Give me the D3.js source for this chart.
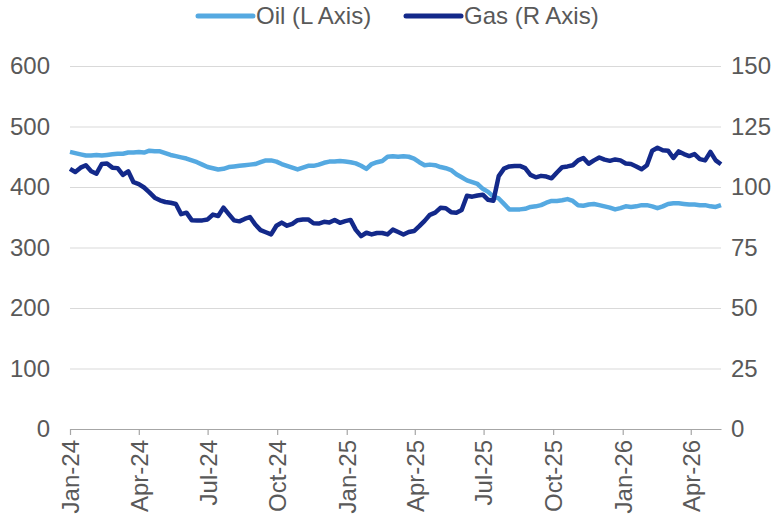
<!DOCTYPE html>
<html>
<head>
<meta charset="utf-8">
<script src="https://cdn.jsdelivr.net/npm/d3@7"></script>
<style>
  body { margin: 0; background: #fff; }
  svg { display: block; font-family: "Liberation Sans", Arial, sans-serif; }
</style>
</head>
<body>
<svg id="chart" width="784" height="518"></svg>
<script>
// weekly observations, first week starting 1 Jan 2024
const startDate = new Date(2024, 0, 1);

const oilValues = [
  458, 456, 454, 452, 452, 453, 452, 453, 454, 455, 455, 457, 457, 458, 457, 460,
  459, 459, 456, 453, 451, 449, 447, 444, 441, 437, 433, 431, 429, 430, 433, 434,
  435, 436, 437, 438, 441, 444, 444, 442, 438, 435, 432, 429, 432, 435, 435, 437,
  440, 442, 442, 443, 442, 441, 439, 435, 430, 438, 441, 443, 450, 451, 450, 451,
  450, 447, 441, 436, 437, 436, 433, 431, 428, 421, 416, 411, 408, 405, 397, 392,
  384, 381, 372, 363, 363, 363, 364, 367, 368, 370, 374, 377, 377, 378, 380, 377,
  370, 369, 371, 372, 370, 368, 366, 363, 365, 368, 367, 368, 370, 370, 368, 365,
  368, 372, 373, 373, 372, 371, 371, 370, 370, 368, 367, 370
];

const gasValues = [
  107.5, 106.2, 108, 109, 106.5, 105.5, 109.5, 109.7, 108, 107.8, 105, 106.5, 102, 101.2, 99.8, 97.8,
  95.6, 94.5, 93.8, 93.5, 93, 88.8, 89.4, 86.3, 86.2, 86.2, 86.6, 88.6, 88, 91.5, 88.8, 86.2,
  85.8, 86.8, 87.6, 84.5, 82.2, 81.3, 80.4, 84, 85.3, 84, 84.8, 86.3, 86.6, 86.6, 85, 84.9,
  85.6, 85.3, 86.4, 85.2, 85.9, 86.4, 82.3, 79.7, 81.1, 80.4, 81, 81, 80.4, 82.4, 81.4, 80.4,
  81.4, 81.8, 83.8, 86, 88.5, 89.4, 91.4, 91.2, 89.6, 89.4, 90.5, 96.4, 96, 96.5, 96.8, 94.7,
  94.3, 104.5, 107.6, 108.5, 108.7, 108.7, 107.8, 105, 104, 104.6, 104.3, 103.6, 106, 108.2, 108.5, 109,
  111, 112, 109.6, 111, 112.2, 111.3, 110.8, 111.4, 111, 109.7, 109.5, 108.5, 107.3, 109, 115, 116.2,
  115.2, 115, 112, 114.7, 113.6, 112.8, 113.6, 111.5, 111, 114.5, 111, 109.4
];

const leftTicks = [0, 100, 200, 300, 400, 500, 600];
const rightTicks = [0, 25, 50, 75, 100, 125, 150];
const seriesNames = ["Oil (L Axis)", "Gas (R Axis)"];
const seriesColors = ["#55a9e1", "#13298a"];

const dates = oilValues.map((d, i) => d3.timeDay.offset(startDate, i * 7));

const width = 784, height = 518;
const margin = { top: 66, right: 63, bottom: 89, left: 70 };
const svg = d3.select("#chart");

const x = d3.scaleTime()
  .domain([startDate, dates[dates.length - 1]])
  .range([margin.left, width - margin.right]);

const yL = d3.scaleLinear().domain([0, 600]).range([height - margin.bottom, margin.top]);
const yR = d3.scaleLinear().domain([0, 150]).range([height - margin.bottom, margin.top]);

const textColor = "#595959";
const fontSize = "24px";

// gridlines
svg.append("g")
  .attr("transform", `translate(${margin.left},0)`)
  .call(d3.axisLeft(yL).tickValues(leftTicks.filter(d => d > 0)).tickSize(-(width - margin.left - margin.right)).tickFormat(""))
  .call(g => g.select(".domain").remove())
  .selectAll("line")
  .attr("stroke", "#d9d9d9")
  .attr("stroke-width", 1);

// left axis labels
svg.append("g")
  .attr("transform", `translate(${margin.left - 20},0)`)
  .call(d3.axisLeft(yL).tickValues(leftTicks).tickSize(0).tickPadding(0))
  .call(g => g.select(".domain").remove())
  .selectAll("text")
  .attr("fill", textColor)
  .style("font-size", fontSize);

// right axis labels
svg.append("g")
  .attr("transform", `translate(${width - margin.right + 10},0)`)
  .call(d3.axisRight(yR).tickValues(rightTicks).tickSize(0).tickPadding(0))
  .call(g => g.select(".domain").remove())
  .selectAll("text")
  .attr("fill", textColor)
  .style("font-size", fontSize);

// x axis
const quarterTicks = d3.timeMonth.every(3).range(startDate, dates[dates.length - 1]);
const xAxis = svg.append("g")
  .attr("transform", `translate(0,${height - margin.bottom})`)
  .call(d3.axisBottom(x).tickValues(quarterTicks).tickSize(6).tickSizeOuter(0).tickFormat(d3.timeFormat("%b-%y")));
xAxis.select(".domain").attr("stroke", "#a6a6a6").attr("stroke-width", 1.2);
xAxis.selectAll(".tick line").attr("stroke", "#a6a6a6").attr("stroke-width", 1.2);
xAxis.selectAll("text")
  .attr("fill", textColor)
  .style("font-size", fontSize)
  .attr("text-anchor", "end")
  .attr("transform", "rotate(-90)")
  .attr("x", -11)
  .attr("y", 0)
  .attr("dy", "0.35em");

// lines
const oilLine = d3.line().x((d, i) => x(dates[i])).y(d => yL(d));
const gasLine = d3.line().x((d, i) => x(dates[i])).y(d => yR(d));

svg.append("path")
  .datum(oilValues)
  .attr("fill", "none")
  .attr("stroke", seriesColors[0])
  .attr("stroke-width", 4.5)
  .attr("stroke-linejoin", "round")
  .attr("d", oilLine);

svg.append("path")
  .datum(gasValues)
  .attr("fill", "none")
  .attr("stroke", seriesColors[1])
  .attr("stroke-width", 4.5)
  .attr("stroke-linejoin", "round")
  .attr("d", gasLine);

// legend
const legendX = [198, 406];
const legend = svg.append("g")
  .selectAll("g")
  .data(seriesNames)
  .join("g")
  .attr("transform", (d, i) => `translate(${legendX[i]},16)`);

legend.append("line")
  .attr("x1", 0).attr("x2", 55)
  .attr("y1", 0).attr("y2", 0)
  .attr("stroke", (d, i) => seriesColors[i])
  .attr("stroke-width", 5)
  .attr("stroke-linecap", "round");

legend.append("text")
  .attr("x", 58)
  .attr("y", 0)
  .attr("dy", "0.35em")
  .attr("fill", textColor)
  .style("font-size", fontSize)
  .text(d => d);
</script>
</body>
</html>
